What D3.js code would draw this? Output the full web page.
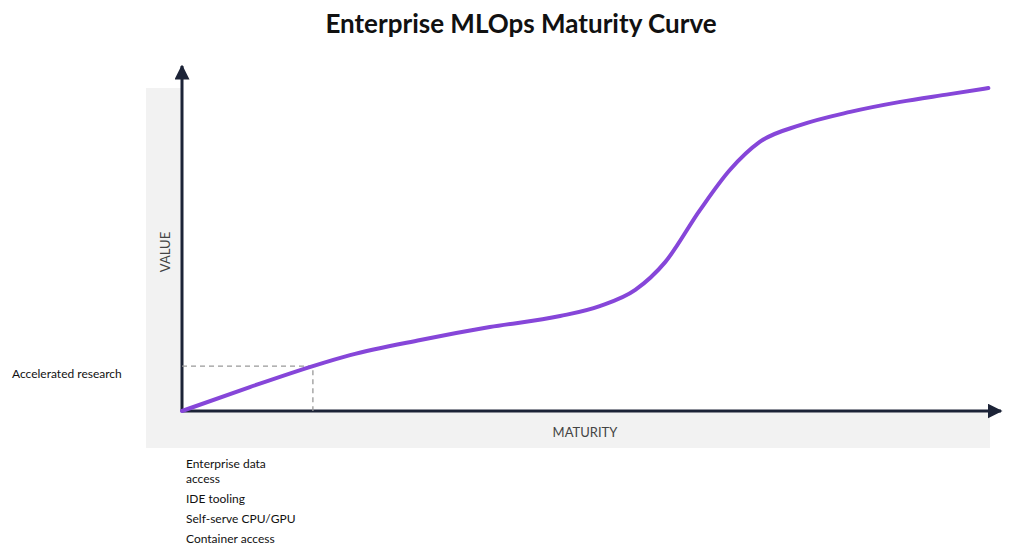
<!DOCTYPE html>
<html><head><meta charset="utf-8">
<script src="https://cdn.jsdelivr.net/npm/d3@7"></script>
<style>body{margin:0;background:#fff}text{font-family:Lato,sans-serif}</style>
</head><body><svg id="c" width="1024" height="553"></svg>
<script>
const maturity=[0,8.4,16.2,20.8,29.5,38.1,46.8,51.7,56.1,59.8,64.1,67.8,71.5,76.5,82.7,88.9,95,99.8];
const value=[0,7.4,13.9,17.3,22,26,29.4,32.5,37.5,46.1,62.2,74.6,83.3,88.5,92.6,95.7,98.1,100];
const marker={x:16.2,y:13.9,label:"Accelerated research"};
const xItems=["Enterprise data|access","IDE tooling","Self-serve CPU/GPU","Container access"];
const svg=d3.select("#c");
const x=d3.scaleLinear().domain([0,100]).range([182,990]);
const y=d3.scaleLinear().domain([0,100]).range([411,88]);
const ink="#1c2337";
svg.append("text").attr("x",521).attr("y",33).attr("text-anchor","middle").attr("font-size",26).attr("font-weight",700).attr("fill","#111").text("Enterprise MLOps Maturity Curve");
svg.append("rect").attr("x",146).attr("y",88).attr("width",36).attr("height",360).attr("fill","#f2f2f2");
svg.append("rect").attr("x",146).attr("y",411).attr("width",844).attr("height",37).attr("fill","#f2f2f2");
svg.append("defs").append("marker").attr("id","ar").attr("viewBox","0 0 10 10").attr("refX",9).attr("refY",5).attr("markerWidth",5).attr("markerHeight",5).attr("orient","auto").attr("markerUnits","strokeWidth")
 .append("path").attr("d","M0,0L10,5L0,10z").attr("fill",ink);
svg.append("line").attr("x1",x(0)).attr("y1",y(0)).attr("x2",x(0)).attr("y2",66).attr("stroke",ink).attr("stroke-width",3).attr("marker-end","url(#ar)");
svg.append("line").attr("x1",x(0)).attr("y1",y(0)).attr("x2",1001).attr("y2",y(0)).attr("stroke",ink).attr("stroke-width",3).attr("marker-end","url(#ar)");
svg.append("text").attr("transform","translate(170,252) rotate(-90)").attr("text-anchor","middle").attr("font-size",13).attr("fill","#444").text("VALUE");
svg.append("text").attr("x",585).attr("y",437).attr("text-anchor","middle").attr("font-size",13).attr("fill","#444").text("MATURITY");
svg.append("path").attr("d",`M${x(0)},${y(marker.y)}H${x(marker.x)}V${y(0)}`).attr("fill","none").attr("stroke","#999").attr("stroke-dasharray","5,4").attr("stroke-width",1.3);
svg.append("path").datum(maturity.map((m,i)=>[m,value[i]])).attr("d",d3.line().x(d=>x(d[0])).y(d=>y(d[1])).curve(d3.curveMonotoneX)).attr("fill","none").attr("stroke","#8646d9").attr("stroke-width",4).attr("stroke-linecap","round");
svg.append("text").attr("x",12).attr("y",378).attr("font-size",12).attr("fill","#111").text(marker.label);
let yy=468;
xItems.forEach(t=>{t.split("|").forEach((l,k)=>{svg.append("text").attr("x",186).attr("y",yy).attr("font-size",12).attr("fill","#111").text(l);yy+=15;});yy+=5;});
</script></body></html>
